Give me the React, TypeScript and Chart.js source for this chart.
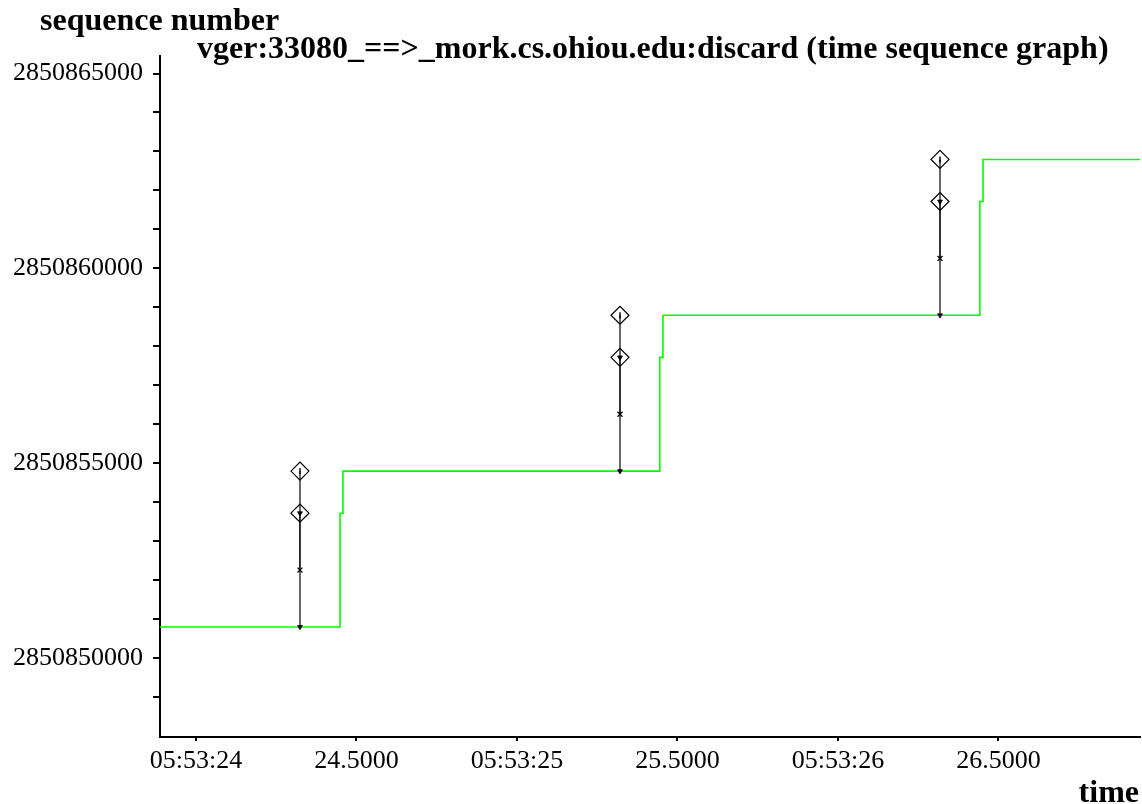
import React, { useEffect, useRef } from 'react';
import { Chart, registerables } from 'chart.js';

Chart.register(...registerables);

const SERIF = '"Liberation Serif", "Times New Roman", serif';

// Time axis: seconds past 05:53:00
const xMin = 23.888;
const xMax = 26.941;
const xTickValues = [24, 24.5, 25, 25.5, 26, 26.5];
const xTickLabels = ['05:53:24', '24.5000', '05:53:25', '25.5000', '05:53:26', '26.5000'];

// Sequence-number axis
const yMin = 2850847970;
const yMax = 2850865450;
const yLabelStep = 5000;
const yMinorStep = 1000;
const yFirstTick = 2850849000;
const yLastTick = 2850865000;

// ACK line (green step)
const ackTimes = [23.888, 24.449, 24.458, 25.445, 25.455, 26.442, 26.452, 26.941];
const ackSeq = [
  2850850795, 2850853715, 2850854795, 2850857715, 2850858795, 2850861715, 2850862795, 2850862795,
];

// Data segments sent at each burst
const segTimes = [24.324, 25.321, 26.318];
const segStart = [2850850795, 2850854795, 2850858795];
const segCross = [2850852255, 2850856255, 2850860255];
const segRexmit = [2850853715, 2850857715, 2850861715];
const segEnd = [2850854795, 2850858795, 2850862795];

type Pt = { x: number; y: number | null };

function verticalRuns(from: number[], to: number[]): Pt[] {
  const out: Pt[] = [];
  segTimes.forEach((t, i) => {
    out.push({ x: t, y: from[i] });
    out.push({ x: t, y: to[i] });
    out.push({ x: t, y: null });
  });
  return out;
}

const textPlugin = {
  id: 'graphText',
  afterDraw(chart: any) {
    const ctx = chart.ctx as CanvasRenderingContext2D;
    ctx.save();
    ctx.fillStyle = '#000';
    ctx.font = `bold 32px ${SERIF}`;
    ctx.textBaseline = 'alphabetic';
    ctx.textAlign = 'left';
    ctx.fillText('sequence number', 40, 30);
    ctx.fillText('vger:33080_==>_mork.cs.ohiou.edu:discard (time sequence graph)', 197, 58);
    ctx.textAlign = 'right';
    ctx.fillText('time', 1139, 802);
    ctx.restore();
  },
};

export default function App() {
  const canvasRef = useRef<HTMLCanvasElement | null>(null);

  useEffect(() => {
    if (!canvasRef.current) return;
    const yTicks: number[] = [];
    for (let v = yFirstTick; v <= yLastTick; v += yMinorStep) yTicks.push(v);

    const chart = new Chart(canvasRef.current, {
      type: 'line',
      data: {
        datasets: [
          {
            label: 'ack',
            data: ackTimes.map((t, i) => ({ x: t, y: ackSeq[i] })),
            stepped: 'before',
            borderColor: '#00ff00',
            borderWidth: 1.6,
            pointRadius: 0,
            order: 5,
          },
          {
            label: 'segLower',
            data: verticalRuns(segStart, segCross),
            borderColor: '#666666',
            borderWidth: 2,
            pointRadius: 0,
            spanGaps: false,
            order: 4,
          },
          {
            label: 'segMiddle',
            data: verticalRuns(segCross, segRexmit),
            borderColor: '#000000',
            borderWidth: 1.6,
            pointRadius: 0,
            spanGaps: false,
            order: 4,
          },
          {
            label: 'segUpper',
            data: verticalRuns(segRexmit, segEnd),
            borderColor: '#666666',
            borderWidth: 2,
            pointRadius: 0,
            spanGaps: false,
            order: 4,
          },
          {
            label: 'diamonds',
            data: [
              ...segTimes.map((t, i) => ({ x: t, y: segRexmit[i] })),
              ...segTimes.map((t, i) => ({ x: t, y: segEnd[i] })),
            ],
            showLine: false,
            pointStyle: 'rectRot',
            pointRadius: 9,
            pointBorderColor: '#000',
            pointBorderWidth: 1.2,
            pointBackgroundColor: 'rgba(0,0,0,0)',
            order: 1,
          },
          {
            label: 'crosses',
            data: segTimes.map((t, i) => ({ x: t, y: segCross[i] })),
            showLine: false,
            pointStyle: 'crossRot',
            pointRadius: 3.5,
            pointBorderColor: '#000',
            pointBorderWidth: 1.3,
            order: 1,
          },
          {
            label: 'arrows',
            data: [
              ...segTimes.map((t, i) => ({ x: t, y: segStart[i] })),
              ...segTimes.map((t, i) => ({ x: t, y: segRexmit[i] })),
            ],
            showLine: false,
            pointStyle: 'triangle',
            rotation: 180,
            pointRadius: 2.8,
            pointBorderColor: '#000',
            pointBackgroundColor: '#000',
            pointBorderWidth: 0.8,
            order: 1,
          },
          {
            label: 'topTicks',
            data: segTimes.map((t, i) => ({ x: t, y: segEnd[i] })),
            showLine: false,
            pointStyle: 'line',
            rotation: 90,
            pointRadius: 3,
            pointBorderColor: '#000',
            pointBorderWidth: 1.4,
            order: 1,
          },
        ],
      },
      options: {
        responsive: false,
        animation: false,
        events: [],
        layout: { autoPadding: false, padding: { top: 56, right: 2, left: 0, bottom: 0 } },
        plugins: {
          legend: { display: false },
          tooltip: { enabled: false },
          title: { display: false },
        },
        scales: {
          x: {
            type: 'linear',
            min: xMin,
            max: xMax,
            afterBuildTicks: (scale: any) => {
              scale.ticks = xTickValues.map((v) => ({ value: v }));
            },
            afterFit: (scale: any) => {
              scale.height = 67;
              scale.paddingLeft = 0;
              scale.paddingRight = 0;
            },
            ticks: {
              autoSkip: false,
              maxRotation: 0,
              padding: 5,
              color: '#000',
              font: { family: SERIF, size: 26 },
              callback: (_v: any, index: number) => xTickLabels[index],
            },
            grid: {
              drawOnChartArea: false,
              drawTicks: true,
              tickLength: 4,
              color: '#000',
              lineWidth: 2,
            },
            border: { display: true, color: '#000', width: 2 },
          },
          y: {
            type: 'linear',
            min: yMin,
            max: yMax,
            afterBuildTicks: (scale: any) => {
              scale.ticks = yTicks.map((v) => ({ value: v }));
            },
            afterFit: (scale: any) => {
              scale.width = 160;
              scale.paddingTop = 0;
              scale.paddingBottom = 0;
            },
            ticks: {
              autoSkip: false,
              padding: 10,
              color: '#000',
              font: { family: SERIF, size: 26 },
              callback: (v: any) => (Number(v) % yLabelStep === 0 ? String(v) : ''),
            },
            grid: {
              drawOnChartArea: false,
              drawTicks: true,
              tickLength: 7,
              color: '#000',
              lineWidth: 2,
            },
            border: { display: true, color: '#000', width: 2 },
          },
        },
      },
      plugins: [textPlugin],
    } as any);

    return () => chart.destroy();
  }, []);

  return (
    <div style={{ position: 'absolute', left: 0, top: 0, width: 1142, height: 804, background: '#fff' }}>
      <canvas ref={canvasRef} width={1142} height={804} style={{ display: 'block' }} />
    </div>
  );
}
